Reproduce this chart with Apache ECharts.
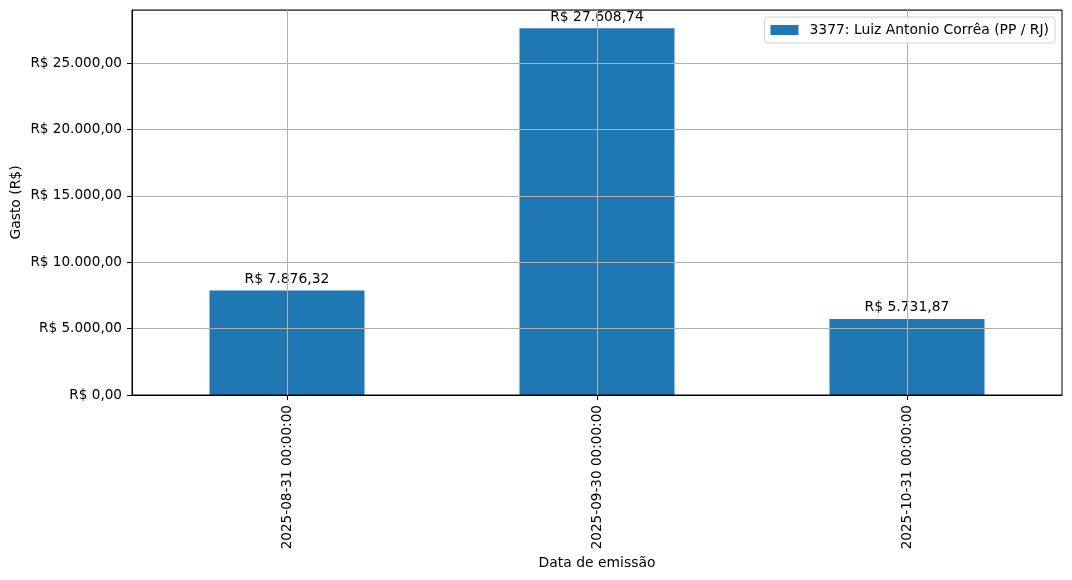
<!DOCTYPE html>
<html>
<head>
<meta charset="utf-8">
<script src="https://cdn.jsdelivr.net/npm/echarts@6/dist/echarts.min.js"></script>
<style>html,body{margin:0;padding:0;background:#fff}#c{width:1072px;height:580px}</style>
</head>
<body>
<div id="c"></div>
<script>
const categories = ['2025-08-31 00:00:00', '2025-09-30 00:00:00', '2025-10-31 00:00:00'];
const seriesName = '3377: Luiz Antonio Corrêa (PP / RJ)';
const values = [7876.32, 27608.74, 5731.87];
const yTicks = [0, 5000, 10000, 15000, 20000, 25000];

const fmt = v => 'R$ ' + v.toLocaleString('pt-BR', {minimumFractionDigits: 2, maximumFractionDigits: 2});
const FONT = 'DejaVu Sans';
const FS = 13.9;
const TFS = 13.6;
const chart = echarts.init(document.getElementById('c'));
chart.setOption({
  animation: false,
  textStyle: {fontFamily: FONT},
  grid: {left: 132, right: 10, top: 10, bottom: 185, containLabel: false, outerBoundsMode: 'none', show: true, borderColor: '#000', borderWidth: 1, backgroundColor: 'transparent', z: 4},
  legend: {
    data: [seriesName], right: 17, top: 17, itemWidth: 28, itemHeight: 10, itemGap: 10,
    padding: [6, 6, 6, 6], borderColor: '#d0d0d0', borderWidth: 1, borderRadius: 3,
    backgroundColor: 'rgba(255,255,255,0.9)', icon: 'rect',
    textStyle: {fontFamily: FONT, fontSize: FS, color: '#000', padding: [0, 0, 0, 6]}, z: 10
  },
  xAxis: {
    type: 'category', data: categories, z: 3,
    name: 'Data de emissão', nameLocation: 'middle', nameGap: 161, nameMoveOverlap: false,
    nameTextStyle: {fontFamily: FONT, fontSize: FS, color: '#000'},
    axisLine: {lineStyle: {color: '#000'}},
    axisTick: {show: true, alignWithLabel: true, length: 5, lineStyle: {color: '#000'}},
    axisLabel: {rotate: 90, fontFamily: FONT, fontSize: TFS, color: '#000', margin: 10, interval: 0},
    splitLine: {show: false}
  },
  yAxis: {
    type: 'value', min: 0, max: 28989.18, interval: 5000, z: 3,
    name: 'Gasto (R$)', nameLocation: 'middle', nameGap: 109, nameMoveOverlap: false,
    nameTextStyle: {fontFamily: FONT, fontSize: FS, color: '#000'},
    axisLine: {show: true, lineStyle: {color: '#000'}},
    axisTick: {show: true, length: 5, lineStyle: {color: '#000'}},
    axisLabel: {fontFamily: FONT, fontSize: TFS, color: '#000', margin: 10, formatter: v => yTicks.includes(v) ? fmt(v) : '', showMaxLabel: false},
    splitLine: {show: true, lineStyle: {color: '#b0b0b0', width: 1}}
  },
  series: [{
    name: seriesName, type: 'bar', data: values, barWidth: '50%', z: 2,
    itemStyle: {color: '#1f77b4'},
    label: {show: true, position: 'top', distance: 4, formatter: p => fmt(p.value), fontFamily: FONT, fontSize: FS, color: '#000'},
    markLine: {
      silent: true, symbol: 'none', animation: false,
      label: {show: false},
      lineStyle: {type: 'solid', color: '#b0b0b0', width: 1},
      emphasis: {disabled: true},
      data: categories.map(c => ({xAxis: c}))
    }
  }]
});
</script>
</body>
</html>
